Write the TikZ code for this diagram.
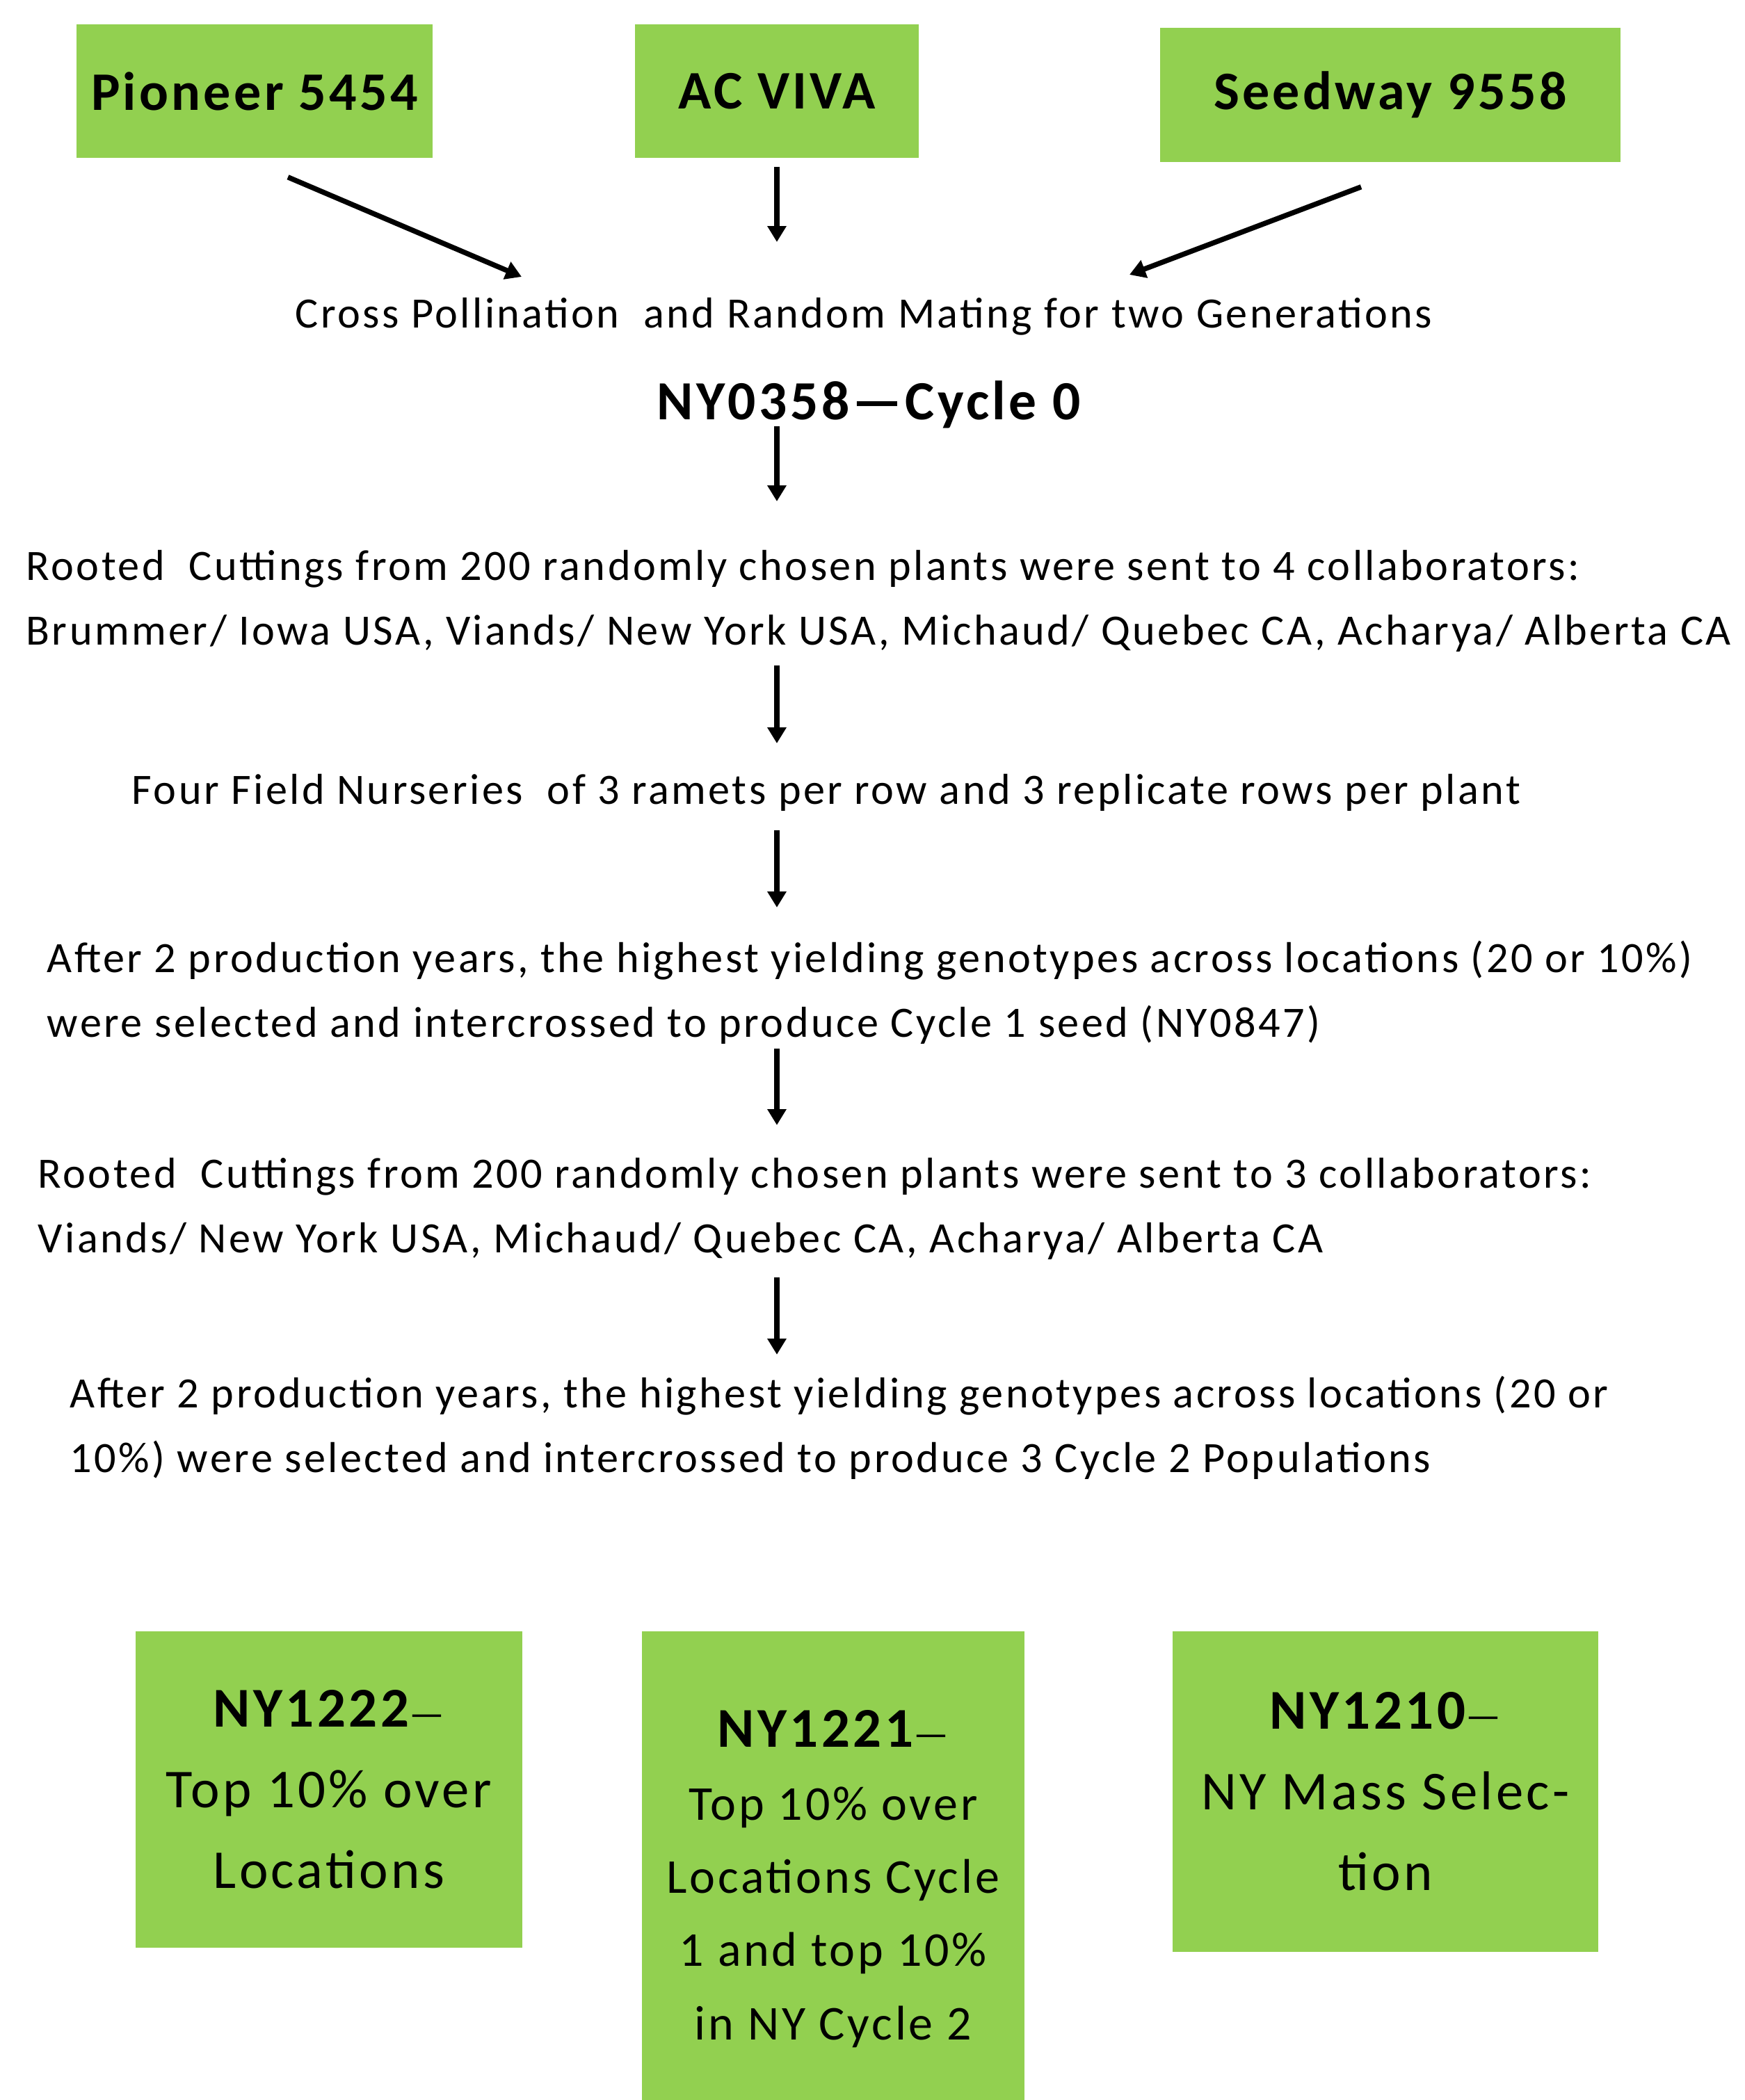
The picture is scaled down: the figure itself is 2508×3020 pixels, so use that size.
\documentclass[tikz,border=0pt]{standalone}
\usepackage{fontspec}
\setmainfont{Carlito}[LetterSpace=5.5]
\usepackage{tikz}
\usetikzlibrary{arrows.meta,calc}
\definecolor{leaf}{HTML}{92D050}
\tikzset{
  seedbox/.style={fill=leaf, inner sep=0pt, font=\fontsize{22.2}{26}\selectfont\bfseries},
  popbox/.style={fill=leaf, inner sep=0pt, align=center, anchor=north west},
  steptxt/.style={inner sep=0pt, anchor=base west, align=left, font=\fontsize{17.7}{26.2}\selectfont},
  flow/.style={-{Triangle[length=6.5pt,width=7.4pt]}, line width=2.1pt},
}
\newcommand{\popname}[1]{{\fontsize{23}{23}\selectfont\bfseries #1}{\fontsize{16}{16}\selectfont —}}

\begin{document}
\begin{tikzpicture}[x=0.01cm, y=-0.01cm]
        \useasboundingbox (0,0) rectangle (2508,3020);
        % parent varieties
        \node[seedbox, minimum width=5.12cm, minimum height=1.92cm] (pio)  at (366,131)   {Pioneer 5454};
        \node[seedbox, minimum width=4.08cm, minimum height=1.92cm] (viva) at (1117,131)  {AC VIVA};
        \node[seedbox, minimum width=6.62cm, minimum height=1.93cm] (seed) at (1999,136.5) {Seedway 9558};
        % selection steps (base = last line)
        \node[steptxt] (cross) at (424,471) {Cross Pollination\ \ and Random Mating for two Generations};
        \node[inner sep=0pt, anchor=base, font=\fontsize{22.6}{26}\selectfont\bfseries] (cyc0) at (1249,603) {NY0358—Cycle 0};
        \node[steptxt] (root1) at (37,927) {Rooted\ \ Cuttings from 200 randomly chosen plants were sent to 4 collaborators:\\Brummer/ Iowa USA, Viands/ New York USA, Michaud/ Quebec CA, Acharya/ Alberta CA};
        \node[steptxt] (four) at (189,1156) {Four Field Nurseries\ \ of 3 ramets per row and 3 replicate rows per plant};
        \node[steptxt] (sel1) at (67,1491) {After 2 production years, the highest yielding genotypes across locations (20 or 10\%)\\were selected and intercrossed to produce Cycle 1 seed (NY0847)};
        \node[steptxt] (root2) at (54,1801) {Rooted\ \ Cuttings from 200 randomly chosen plants were sent to 3 collaborators:\\Viands/ New York USA, Michaud/ Quebec CA, Acharya/ Alberta CA};
        \node[steptxt] (sel2) at (100,2117) {After 2 production years, the highest yielding genotypes across locations (20 or\\10\%) were selected and intercrossed to produce 3 Cycle 2 Populations};
        % cycle 2 populations
        \node[popbox, minimum width=5.56cm, minimum height=4.55cm, font=\fontsize{22.4}{33}\selectfont] (n1222) at (194,2345) {\popname{NY1222}\\Top 10\% over\\Locations};
        \node[popbox, minimum width=5.50cm, minimum height=6.75cm, font=\fontsize{19.9}{29.9}\selectfont] (n1221) at (922,2345) {\rule{0pt}{0.9cm}\popname{NY1221}\\Top 10\% over\\Locations Cycle\\1 and top 10\%\\in NY Cycle 2};
        \node[popbox, minimum width=6.12cm, minimum height=4.61cm, font=\fontsize{22.4}{33}\selectfont] (n1210) at (1685,2345) {\popname{NY1210}\\NY Mass Selec-\\tion};
        % arrows
        \draw[flow] ($(pio.south)+(48,27)$) -- ($(cross.base west)+(326,-73)$);
        \draw[flow] ($(viva.south)+(0,12)$) -- ($(cross.base -| viva.south)+(0,-123)$);
        \draw[flow] ($(seed.south)+(-42,35)$) -- ($(cross.base west)+(1200,-76)$);
        \draw[flow] ($(cyc0.base -| viva.south)+(0,10)$) -- ($(root1.base -| viva.south)+(0,-206)$);
        \draw[flow] ($(root1.base -| viva.south)+(0,30)$) -- ($(four.base -| viva.south)+(0,-87)$);
        \draw[flow] ($(four.base -| viva.south)+(0,38)$) -- ($(sel1.base -| viva.south)+(0,-186)$);
        \draw[flow] ($(sel1.base -| viva.south)+(0,17)$) -- ($(root2.base -| viva.south)+(0,-183)$);
        \draw[flow] ($(root2.base -| viva.south)+(0,36)$) -- ($(sel2.base -| viva.south)+(0,-169)$);
      \end{tikzpicture}
\end{document}
